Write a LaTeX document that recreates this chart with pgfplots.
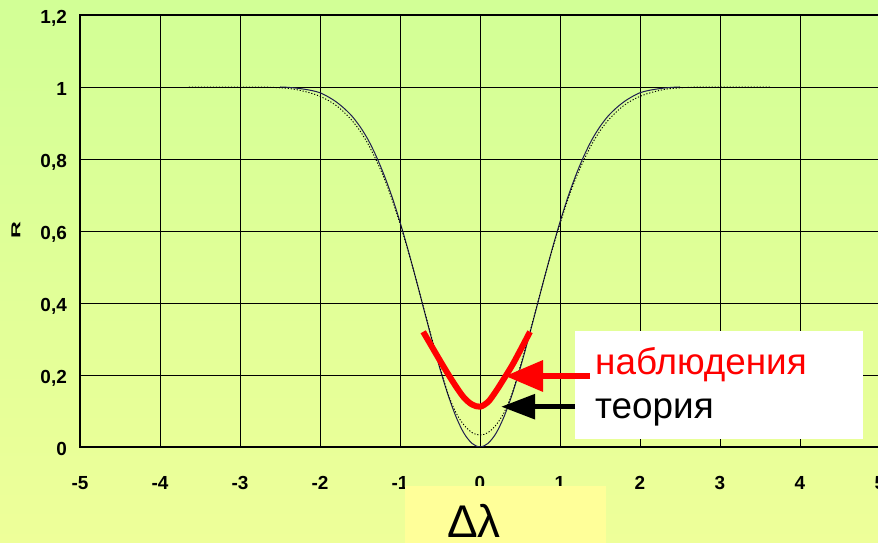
\documentclass[border=0pt]{standalone}
\usepackage{pgfplots}
\pgfplotsset{compat=1.18}
\usepackage{graphicx}
\usepackage{fontspec}
\setmainfont{Liberation Sans}
\usetikzlibrary{arrows.meta}
\definecolor{bgtop}{RGB}{210,255,150}
\definecolor{bgbot}{RGB}{238,255,153}
\definecolor{boxyel}{RGB}{255,255,153}
\definecolor{navy}{RGB}{30,30,80}
\begin{document}
\begin{tikzpicture}[x=1bp,y=1bp]
\useasboundingbox (0,0) rectangle (878,543);
\shade[top color=bgtop, bottom color=bgbot] (0,0) rectangle (878,543);
\begin{axis}[at={(80bp,96bp)}, anchor=south west, scale only axis,
  width=800bp, height=432bp,
  xmin=-5, xmax=5, ymin=0, ymax=1.2,
  axis line style={line width=2bp},
  xtick={-5,-4,-3,-2,-1,0,1,2,3,4,5},
  xticklabels={-5,-4,-3,-2,-1,0,1,2,3,4,5},
  ytick={0,0.2,0.4,0.6,0.8,1,1.2},
  yticklabels={0,{0,2},{0,4},{0,6},{0,8},1,{1,2}},
  major tick length=0pt,
  grid=major, major grid style={black, line width=0.9bp},
  xticklabel style={anchor=base, yshift=-43bp, inner sep=0pt, font=\bfseries\fontsize{19}{19}\selectfont},
  yticklabel style={anchor=base east, xshift=-13bp, yshift=-9bp, inner sep=0pt, font=\bfseries\fontsize{19}{19}\selectfont},
]
% theory (solid)
\addplot[navy, line width=1bp, smooth] coordinates {
(-2.5,1.0) (-2.4,0.999) (-2.3,0.997) (-2.2,0.994) (-2.1,0.990) (-2.0,0.984)
(-1.9,0.973) (-1.8,0.959) (-1.7,0.941) (-1.6,0.919) (-1.5,0.890) (-1.4,0.854)
(-1.3,0.809) (-1.2,0.756) (-1.1,0.695) (-1.0,0.625) (-0.9,0.548) (-0.8,0.466)
(-0.7,0.381) (-0.6,0.297) (-0.5,0.217) (-0.4,0.145) (-0.3,0.084) (-0.2,0.038)
(-0.1,0.010) (0,0) (0.1,0.010) (0.2,0.038) (0.3,0.084) (0.4,0.145) (0.5,0.217)
(0.6,0.297) (0.7,0.381) (0.8,0.466) (0.9,0.548) (1.0,0.625) (1.1,0.695)
(1.2,0.756) (1.3,0.809) (1.4,0.854) (1.5,0.890) (1.6,0.919) (1.7,0.941)
(1.8,0.959) (1.9,0.973) (2.0,0.984) (2.1,0.990) (2.2,0.994) (2.3,0.997)
(2.4,0.999) (2.5,1.0)
};
% dotted curve
\addplot[black, line width=0.9bp, dash pattern=on 1.2bp off 1.8bp, smooth] coordinates {
(-3.64,1.0) (-3.2,1.0) (-2.8,1.0) (-2.6,0.999) (-2.4,0.996) (-2.3,0.993)
(-2.2,0.988) (-2.1,0.982) (-2.0,0.974) (-1.9,0.963) (-1.8,0.949) (-1.7,0.930)
(-1.6,0.907) (-1.5,0.878) (-1.4,0.842) (-1.3,0.798) (-1.2,0.748) (-1.1,0.688)
(-1.0,0.620) (-0.9,0.546) (-0.8,0.466) (-0.7,0.383) (-0.6,0.300) (-0.5,0.222)
(-0.4,0.148) (-0.3,0.095) (-0.2,0.061) (-0.1,0.040) (0,0.033) (0.1,0.040)
(0.2,0.061) (0.3,0.095) (0.4,0.148) (0.5,0.222) (0.6,0.300) (0.7,0.383)
(0.8,0.466) (0.9,0.546) (1.0,0.620) (1.1,0.688) (1.2,0.748) (1.3,0.798)
(1.4,0.842) (1.5,0.878) (1.6,0.907) (1.7,0.930) (1.8,0.949) (1.9,0.963)
(2.0,0.974) (2.1,0.982) (2.2,0.988) (2.3,0.993) (2.4,0.996) (2.6,0.999)
(2.8,1.0) (3.2,1.0) (3.64,1.0)
};
% observations (red)
\addplot[red, line width=6bp, smooth] coordinates {
(-0.71,0.32) (-0.6,0.278) (-0.5,0.240) (-0.4,0.203) (-0.3,0.168) (-0.2,0.137)
(-0.1,0.118) (0,0.112) (0.1,0.125) (0.2,0.155) (0.3,0.190) (0.4,0.226)
(0.5,0.267) (0.625,0.32)
};
\end{axis}
% legend box
\fill[white] (575,104) rectangle (863,212);
\node[anchor=base west, inner sep=0pt, text=red, font=\fontsize{37}{37}\selectfont] at (595,168) {наблюдения};
\node[anchor=base west, inner sep=0pt, text=black, font=\fontsize{37}{37}\selectfont] at (595,124) {теория};
\draw[red, line width=6.5bp, -{Triangle[length=38bp,width=30bp]}] (590,167) -- (505,167);
\draw[black, line width=5.5bp, -{Triangle[length=34bp,width=24bp]}] (575,136.3) -- (501,136.3);
% x label box
\fill[boxyel] (405,0) rectangle (606,57.3);
\node[anchor=base west, inner sep=0pt, font=\fontsize{46}{46}\selectfont] at (447,5) {Δλ};
% y label
\node[rotate=90, inner sep=0pt, font=\bfseries\fontsize{13}{13}\selectfont] at (16,313) {\scalebox{1.8}[1]{R}};
\end{tikzpicture}
\end{document}
